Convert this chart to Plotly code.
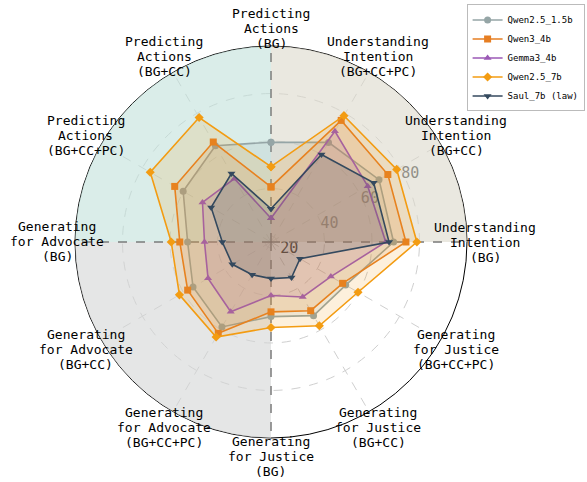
import math
import plotly.graph_objects as go

categories = [
    "Predicting Actions (BG)",
    "Predicting Actions (BG+CC)",
    "Predicting Actions (BG+CC+PC)",
    "Generating for Advocate (BG)",
    "Generating for Advocate (BG+CC)",
    "Generating for Advocate (BG+CC+PC)",
    "Generating for Justice (BG)",
    "Generating for Justice (BG+CC)",
    "Generating for Justice (BG+CC+PC)",
    "Understanding Intention (BG)",
    "Understanding Intention (BG+CC)",
    "Understanding Intention (BG+CC+PC)",
]
label_lines = [
    ["Predicting", "Actions", "(BG)"],
    ["Predicting", "Actions", "(BG+CC)"],
    ["Predicting", "Actions", "(BG+CC+PC)"],
    ["Generating", "for Advocate", "(BG)"],
    ["Generating", "for Advocate", "(BG+CC)"],
    ["Generating", "for Advocate", "(BG+CC+PC)"],
    ["Generating", "for Justice", "(BG)"],
    ["Generating", "for Justice", "(BG+CC)"],
    ["Generating", "for Justice", "(BG+CC+PC)"],
    ["Understanding", "Intention", "(BG)"],
    ["Understanding", "Intention", "(BG+CC)"],
    ["Understanding", "Intention", "(BG+CC+PC)"],
]

qwen25_15b = [59.5, 64.3, 60.2, 52.6, 55.4, 58.8, 48.9, 53.3, 53.8, 69.1, 70.0, 65.9]
qwen3_4b   = [40.7, 66.1, 64.3, 55.9, 58.0, 61.9, 46.9, 50.9, 52.3, 74.3, 74.3, 76.6]
gemma3_4b  = [27.5, 48.3, 50.8, 45.5, 48.1, 51.4, 40.0, 44.2, 46.6, 65.8, 64.5, 71.3]
qwen25_7b  = [49.2, 78.0, 76.2, 59.5, 62.0, 63.7, 53.5, 58.2, 59.8, 78.9, 78.6, 78.9]
saul_7b    = [31.5, 50.8, 46.6, 38.0, 36.3, 33.4, 32.9, 34.8, 31.6, 67.2, 67.4, 60.0]

series_names = ["Qwen2.5_1.5b", "Qwen3_4b", "Gemma3_4b", "Qwen2.5_7b", "Saul_7b (law)"]
series_values = [qwen25_15b, qwen3_4b, gemma3_4b, qwen25_7b, saul_7b]
series_colors = ["#95a5a6", "#e67e22", "#9b59b6", "#f39c12", "#34495e"]
series_fills = ["rgba(149,165,166,0.15)", "rgba(230,126,34,0.15)", "rgba(155,89,182,0.15)",
                "rgba(243,156,18,0.15)", "rgba(52,73,94,0.16)"]
series_symbols = ["circle", "square", "triangle-up", "diamond", "triangle-down"]

r_ticks = [20, 40, 60, 80]
r_min, r_max = 17.5, 100

# quadrant centres in data degrees (0 = top, counter-clockwise)
quad_centers = [45, 315, 135]
quad_colors = ["rgba(193,225,218,0.6)", "rgba(220,217,203,0.6)", "rgba(212,213,213,0.6)"]

n = len(categories)
step = 360 / n
theta = [i * step for i in range(n)]
theta_closed = theta + theta[:1]

FONT = "DejaVu Sans Mono"

fig = go.Figure()

fig.add_trace(go.Barpolar(
    r=[r_max - r_min] * len(quad_centers), base=[r_min] * len(quad_centers),
    theta=quad_centers, width=[90] * len(quad_centers),
    marker=dict(color=quad_colors, line=dict(width=0)),
    showlegend=False, hoverinfo="skip"))

qr, qt = [], []
for a in [0, 90, 180, 270]:
    qr += [r_min, r_max, None]
    qt += [a, a, None]
fig.add_trace(go.Scatterpolar(
    r=qr, theta=qt, mode="lines",
    line=dict(color="rgba(110,110,110,0.85)", width=1.5, dash="dash"),
    showlegend=False, hoverinfo="skip"))

for name, vals, col, fc, sym in zip(series_names, series_values, series_colors, series_fills, series_symbols):
    rc = vals + vals[:1]
    fig.add_trace(go.Scatterpolar(
        r=rc, theta=theta_closed, mode="lines", fill="toself", fillcolor=fc,
        line=dict(width=0, color=fc), showlegend=False, hoverinfo="skip"))
    fig.add_trace(go.Scatterpolar(
        r=rc, theta=theta_closed, mode="lines+markers", name=name,
        line=dict(color=col, width=1.6),
        marker=dict(symbol=sym, size=7, color=col)))

R_lab = 214 / 196 * 0.5
annotations = []
for ang, lines in zip(theta, label_lines):
    a = math.radians(ang + 90)
    x = 0.5 + R_lab * math.cos(a)
    y = 0.5 + R_lab * math.sin(a)
    k = len(lines)
    for i, ln in enumerate(lines):
        annotations.append(dict(
            x=x, y=y, xref="paper", yref="paper", text=ln, showarrow=False,
            xanchor="center", yanchor="middle",
            yshift=((k - 1) / 2 - i) * 15, font=dict(family=FONT, size=13, color="black")))

RA = 32
fig.update_layout(
    width=587, height=482,
    margin=dict(l=75, r=120, t=46, b=44, autoexpand=False),
    paper_bgcolor="white",
    font=dict(family=FONT, color="black"),
    annotations=annotations,
    polar=dict(
        bgcolor="white",
        domain=dict(x=[0, 1], y=[0, 1]),
        radialaxis=dict(
            range=[r_min, r_max], tickvals=r_ticks, ticktext=[str(t) for t in r_ticks],
            angle=RA, tickangle=RA, side="clockwise", showline=False, ticks="",
            gridcolor="#cfcfcf", griddash="dash", gridwidth=1,
            tickfont=dict(family=FONT, size=15, color="#222"),
            layer="below traces"),
        angularaxis=dict(
            rotation=90, direction="counterclockwise", thetaunit="degrees",
            tickmode="array", tickvals=theta, showticklabels=False, ticks="",
            gridcolor="#cfcfcf", griddash="dash", gridwidth=1,
            showline=True, linecolor="black", linewidth=1,
            layer="below traces"),
        barmode="overlay",
    ),
    legend=dict(
        x=1.3, y=1.106, xanchor="right", yanchor="top",
        bordercolor="#bbbbbb", borderwidth=1, bgcolor="white",
        font=dict(family=FONT, size=9), itemwidth=30, tracegroupgap=0),
)

fig.write_html("out.html", config={"displayModeBar": False},
               post_script="document.body.style.margin='0';")
